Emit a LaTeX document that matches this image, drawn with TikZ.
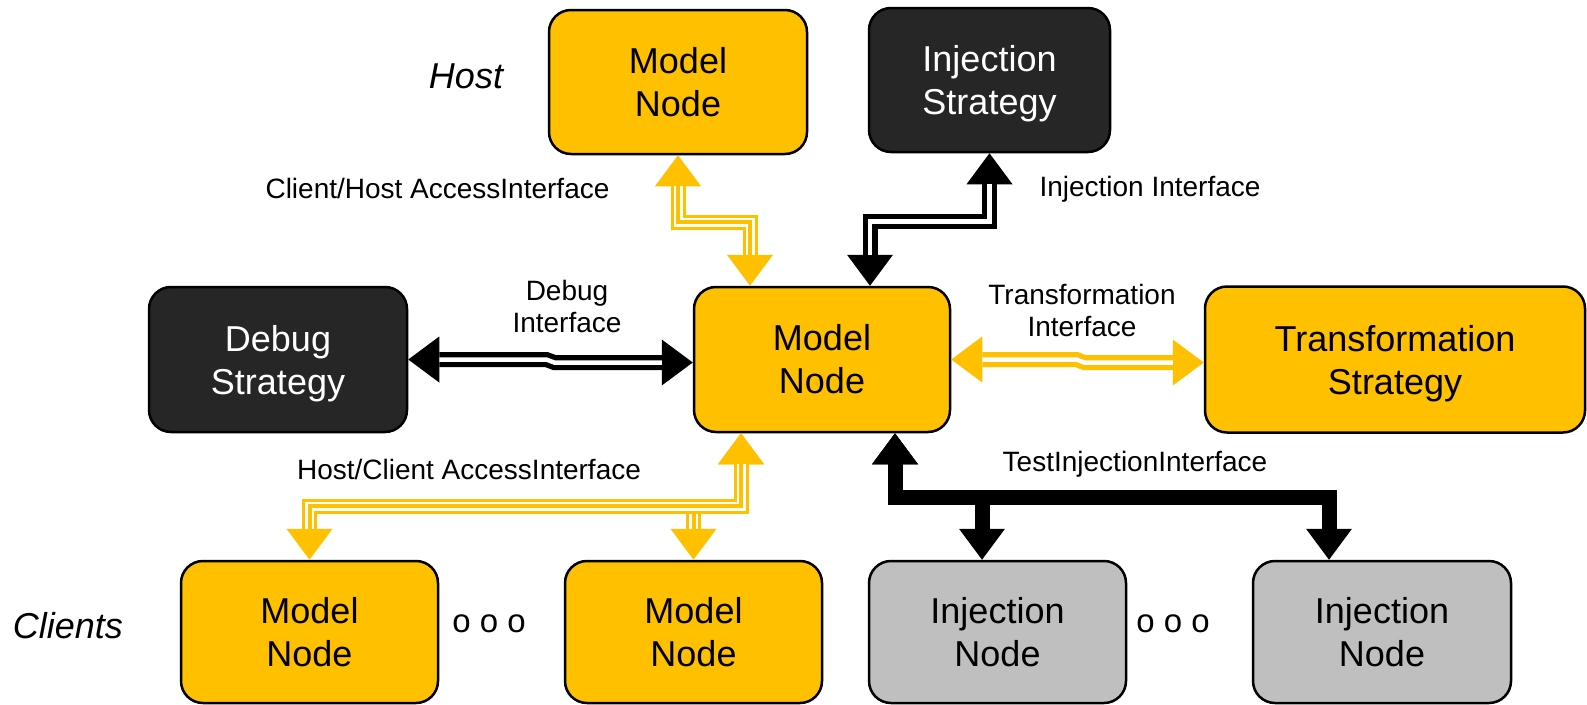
\documentclass[tikz,border=0pt]{standalone}
\usepackage{fontspec}
\setmainfont{Liberation Sans}
\usetikzlibrary{arrows.meta,calc}
\definecolor{cgold}{HTML}{FFC000}
\definecolor{cdark}{HTML}{262626}
\definecolor{cgrey}{HTML}{BFBFBF}
% a last line whose descenders should not move the text block
\newcommand\nodepth[1]{\raisebox{0pt}[\height][0pt]{#1}}

\begin{document}
\begin{tikzpicture}[x=1pt,y=-1pt,
  box/.style={draw=black, line width=2.5pt, rounded corners=22pt, inner sep=0pt,
    align=center, font=\fontsize{36}{43}\selectfont},
  goldbox/.style={box, fill=cgold, minimum width=#1, minimum height=144pt},
  darkbx/.style={box, fill=cdark, text=white, minimum width=#1, minimum height=144pt},
  greybx/.style={box, fill=cgrey, minimum width=#1, minimum height=142pt},
  lbl/.style={font=\fontsize{28}{32}\selectfont, align=center, inner sep=0pt},
  bigital/.style={font=\fontsize{36}{43}\selectfont\itshape, inner sep=0pt, anchor=base},
  dots/.style={font=\fontsize{33}{40}\selectfont, inner sep=0pt, anchor=base},
  biarrow/.style={line join=miter,
    arrows={Triangle[length=31pt,width=46pt,line width=0pt]-Triangle[length=31pt,width=46pt,line width=0pt]}},
  twin/.style={biarrow, draw=#1, line width=15pt,
    postaction={draw=white, line width=4.5pt, arrows=-, shorten <=31pt, shorten >=31pt}},
  triple/.style={biarrow, draw=#1, line width=15pt,
    postaction={draw=white, line width=9pt, arrows=-, shorten <=31pt, shorten >=31pt},
    postaction={draw=#1, line width=4pt, arrows=-, shorten <=31pt, shorten >=31pt}},
  solidarrow/.style={biarrow, draw=#1, line width=15pt},
]
\useasboundingbox (0,0) rectangle (1587,704);

% strategies and model nodes
\node[goldbox=258pt] (hostM) at (678,82) {Model\\Node};
\node[darkbx=241pt] (injS) at (989.5,80) {Injection\\\nodepth{Strategy}};
\node[darkbx=258pt, minimum height=145pt] (debugS) at (278,359.5) {Debug\\\nodepth{Strategy}};
\node[goldbox=256pt, minimum height=145pt] (centerM) at (822,359.5) {Model\\Node};
\node[goldbox=380pt, minimum height=146pt] (transS) at (1395,359.5) {Transformation\\\nodepth{Strategy}};
\node[goldbox=257pt, minimum height=142pt] (c1) at (309.5,632) {Model\\Node};
\node[goldbox=257pt, minimum height=142pt] (c2) at (693.5,632) {Model\\Node};
\node[greybx=257pt] (i1) at (997.5,632) {Injection\\Node};
\node[greybx=258pt] (i2) at (1382,632) {Injection\\Node};

% group captions
\node[bigital] (hostcap) at (466,88) {Host};
\node[bigital] (clientcap) at (68,638) {Clients};
\node[dots] (dotsA) at (489,632) {o o o};
\node[dots] (dotsB) at (1173,632) {o o o};

% interface connectors
\draw[triple=cgold] (hostM.south) -- ++(0,67) -| ($(centerM.north)+(-72,0)$);
\draw[twin=black] (injS.south) -- ++(0,68) -| ($(centerM.north)+(48,0)$);
\draw[twin=black] (debugS.east) -- ++(138,0) -- ++(8,3) -- ($(centerM.west)+(0,3)$);
\draw[twin=cgold] (centerM.east) -- ++(125,0) -- ++(8,3) -- ($(transS.west)+(0,3)$);
\draw[triple=cgold] ($(centerM.south)+(-81,0)$) -- ++(0,73) -| (c2.north);
\draw[triple=cgold] ($(centerM.south)+(-81,0)$) -- ++(0,73) -| (c1.north);
\draw[solidarrow=black] ($(centerM.south)+(73,0)$) -- ++(0,64) -| ($(i2.north)+(-53,0)$);
\draw[solidarrow=black] ($(centerM.south)+(73,0)$) -- ++(0,64) -| ($(i1.north)+(-15.5,0)$);

% interface labels
\node[lbl, anchor=base] (lblCH) at (437.5,198) {Client/Host AccessInterface};
\node[lbl, anchor=base] (lblInj) at (1150,196) {Injection Interface};
\node[lbl] (lblDbg) at (567,306) {Debug\\Interface};
\node[lbl] (lblTr) at (1082,310) {Transformation\\Interface};
\node[lbl, anchor=base] (lblHC) at (469,479) {Host/Client AccessInterface};
\node[lbl, anchor=base] (lblTI) at (1135,471) {TestInjectionInterface};
\end{tikzpicture}
\end{document}
